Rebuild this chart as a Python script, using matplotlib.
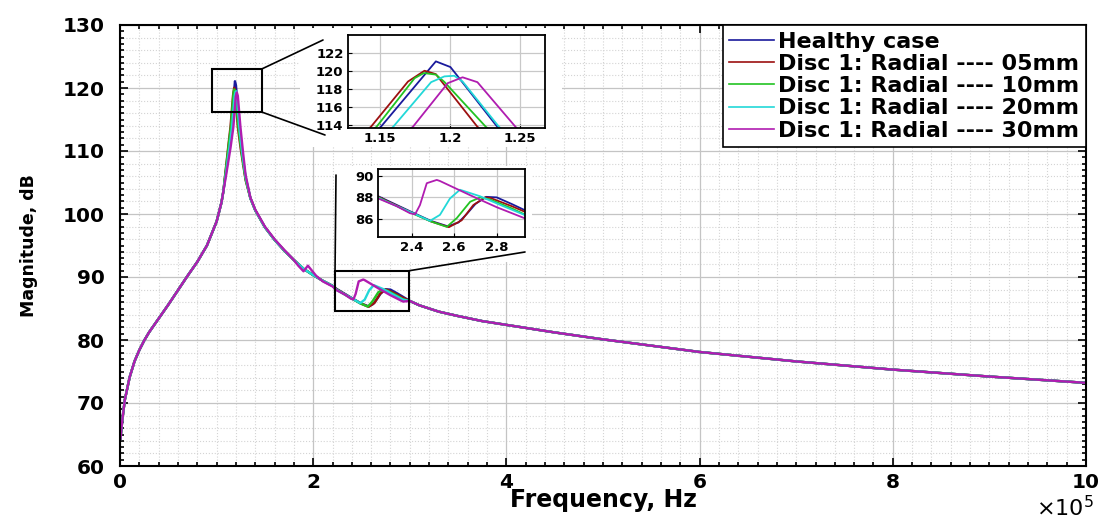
import numpy as np
import matplotlib
matplotlib.use('Agg')
import matplotlib.pyplot as plt
from matplotlib.patches import Rectangle, ConnectionPatch
from matplotlib.ticker import MultipleLocator

plt.rcParams['font.family'] = ['DejaVu Sans']
plt.rcParams['mathtext.default'] = 'regular'

# frequency in units of 1e5 Hz, magnitude in dB
# shared parts of the response (all cases overlap here)
f_low = [0.005, 0.015, 0.028, 0.05, 0.1, 0.15, 0.2, 0.25, 0.3, 0.4, 0.5, 0.6, 0.7, 0.8, 0.9, 1.0, 1.05, 1.07]
m_low = [64.3, 66.0, 67.8, 70.5, 74.1, 76.6, 78.4, 79.9, 81.2, 83.4, 85.6, 87.9, 90.2, 92.4, 95.0, 98.8, 101.8, 103.6]

f_mid = [1.35, 1.4, 1.5, 1.6, 1.7, 1.8, 1.85, 1.9, 1.95, 2.0, 2.1, 2.2]
m_mid = [102.5, 100.6, 97.9, 95.9, 94.2, 92.7, 92.0, 91.3, 90.8, 90.3, 89.4, 88.6]
# 30mm case has a small step near 1.9e5 Hz
f_mid_30 = [1.35, 1.4, 1.5, 1.6, 1.7, 1.8, 1.845, 1.9, 1.945, 2.03, 2.1, 2.2]
m_mid_30 = [102.6, 100.7, 98.0, 96.0, 94.3, 92.7, 91.8, 90.9, 91.8, 90.2, 89.3, 88.5]

f_high = [3.0, 3.1, 3.2, 3.3, 3.5, 3.75, 4.0, 4.5, 5.0, 6.0, 7.0, 8.0, 9.0, 10.0]
m_high = [86.2, 85.5, 85.0, 84.5, 83.8, 83.0, 82.4, 81.2, 80.1, 78.1, 76.6, 75.3, 74.2, 73.2]

# resonance peak, per case
pk_f_h = [1.10, 1.13, 1.1507, 1.190, 1.2004, 1.2057, 1.2339, 1.26, 1.30]
pk_m_h = [107.2, 111.0, 113.8, 121.07, 120.44, 119.4, 113.8, 110.0, 105.8]
pk_f_05 = [1.10, 1.125, 1.1436, 1.1701, 1.1819, 1.190, 1.2197, 1.25, 1.30]
pk_m_05 = [107.8, 111.3, 113.8, 118.83, 120.03, 119.65, 113.8, 110.3, 105.4]
pk_f_10 = [1.10, 1.127, 1.1476, 1.1748, 1.1814, 1.190, 1.196, 1.2257, 1.255, 1.30]
pk_m_10 = [107.6, 111.2, 113.8, 119.2, 119.77, 119.6, 118.8, 113.8, 110.2, 105.5]
pk_f_20 = [1.10, 1.135, 1.1595, 1.1866, 1.1961, 1.2032, 1.2091, 1.2351, 1.265, 1.30]
pk_m_20 = [106.8, 110.8, 113.8, 118.76, 119.4, 119.47, 118.83, 113.8, 109.8, 105.9]
pk_f_30 = [1.10, 1.145, 1.1736, 1.1985, 1.2091, 1.2197, 1.2469, 1.275, 1.30]
pk_m_30 = [106.3, 110.6, 113.8, 118.65, 119.3, 118.76, 113.8, 109.6, 106.2]

# second resonance region, per case
bp_f_h = [2.243, 2.39, 2.49, 2.57, 2.62, 2.66, 2.70, 2.75, 2.80, 2.87, 2.93]
bp_m_h = [88.1, 86.75, 85.85, 85.35, 85.7, 86.5, 87.4, 88.05, 88.0, 87.4, 86.85]
bp_f_05 = [2.243, 2.39, 2.49, 2.575, 2.635, 2.69, 2.745, 2.77, 2.87, 2.93]
bp_m_05 = [88.05, 86.7, 85.8, 85.27, 85.9, 87.3, 88.0, 87.95, 87.2, 86.7]
bp_f_10 = [2.243, 2.39, 2.49, 2.565, 2.612, 2.675, 2.722, 2.77, 2.87, 2.93]
bp_m_10 = [88.0, 86.65, 85.8, 85.3, 86.1, 87.6, 88.0, 87.8, 87.0, 86.45]
bp_f_20 = [2.243, 2.424, 2.486, 2.533, 2.58, 2.627, 2.722, 2.83, 2.93]
bp_m_20 = [87.95, 86.4, 85.85, 86.4, 87.9, 88.7, 88.1, 87.2, 86.4]
bp_f_30 = [2.243, 2.329, 2.392, 2.416, 2.439, 2.471, 2.518, 2.533, 2.675, 2.80, 2.93]
bp_m_30 = [87.9, 87.2, 86.55, 86.45, 87.3, 89.3, 89.6, 89.5, 88.2, 87.1, 86.1]

labels = ['Healthy case', 'Disc 1: Radial ---- 05mm', 'Disc 1: Radial ---- 10mm',
          'Disc 1: Radial ---- 20mm', 'Disc 1: Radial ---- 30mm']
colors = ['#1a1a9c', '#9c1010', '#22c322', '#22d8d8', '#b01cb0']

cases = [
    (pk_f_h, pk_m_h, f_mid, m_mid, bp_f_h, bp_m_h),
    (pk_f_05, pk_m_05, f_mid, m_mid, bp_f_05, bp_m_05),
    (pk_f_10, pk_m_10, f_mid, m_mid, bp_f_10, bp_m_10),
    (pk_f_20, pk_m_20, f_mid, m_mid, bp_f_20, bp_m_20),
    (pk_f_30, pk_m_30, f_mid_30, m_mid_30, bp_f_30, bp_m_30),
]

curves = []
for pf, pm, mf, mm, bf, bm in cases:
    f = f_low + pf + mf + bf + f_high
    m = m_low + pm + mm + bm + m_high
    curves.append((f, m))

W, H = 1102, 520
fig = plt.figure(figsize=(W / 100, H / 100), dpi=100)


def fx(px):
    return px / W


def fy(py):
    return 1 - py / H


ax = fig.add_axes([fx(120), fy(466), fx(1086) - fx(120), fy(25) - fy(466)])
for (f, m), c, lab in zip(curves, colors, labels):
    ax.plot(f, m, color=c, lw=1.7, label=lab)

ax.set_xlim(0, 10)
ax.set_ylim(60, 130)
ax.xaxis.set_major_locator(MultipleLocator(2))
ax.xaxis.set_minor_locator(MultipleLocator(0.2))
ax.yaxis.set_major_locator(MultipleLocator(10))
ax.yaxis.set_minor_locator(MultipleLocator(1))
ax.tick_params(which='both', direction='in', top=True, right=True, width=1.2)
ax.tick_params(which='major', length=6, labelsize=14.5)
ax.tick_params(axis='y', which='major', pad=11)
ax.tick_params(axis='x', which='major', pad=5)
ax.tick_params(which='minor', length=3)
for lbl in ax.get_xticklabels() + ax.get_yticklabels():
    lbl.set_fontweight('bold')
ax.grid(which='major', color='#c4c4c4', lw=0.9)
ax.xaxis.grid(True, which='minor', color='#d4d4d4', ls=':', lw=0.8)
for yv in np.arange(62, 130, 2):
    if yv % 10:
        ax.axhline(yv, color='#d4d4d4', ls=':', lw=0.8, zorder=0.5)
ax.set_axisbelow(True)
for s in ax.spines.values():
    s.set_linewidth(1.5)

ax.set_xlabel('Frequency, Hz', fontsize=17, fontweight='bold', labelpad=-3)
ax.set_ylabel('Magnitude, dB', fontsize=12.5, fontweight='bold', labelpad=18)
fig.text(fx(1094), 0.0, r'$\times10^{5}$', fontsize=16, ha='right', va='bottom')

leg = ax.legend(loc='upper right', bbox_to_anchor=(1.0, 1.0), borderaxespad=0,
                fancybox=False, framealpha=1, edgecolor='black',
                prop={'size': 16, 'weight': 'bold'}, handlelength=2.0,
                handletextpad=0.2, labelspacing=0.1, borderpad=0.3)
leg.get_frame().set_linewidth(1.2)
for ln in leg.get_lines():
    ln.set_linewidth(1.2)

# zoom boxes on the main axes
box1 = (0.955, 116.2, 0.51, 6.8)
box2 = (2.226, 84.6, 0.769, 6.4)
for bx in (box1, box2):
    ax.add_patch(Rectangle(bx[:2], bx[2], bx[3], fill=False, ec='black', lw=1.5, zorder=5))

# white areas behind the insets
for x0, y0, x1, y1 in [(300, 28, 562, 147), (337, 166, 532, 262)]:
    fig.add_artist(Rectangle((fx(x0), fy(y1)), fx(x1) - fx(x0), fy(y0) - fy(y1),
                             transform=fig.transFigure, fc='white', ec='none', zorder=1))

links = [((box1[0] + box1[2], box1[1] + box1[3]), (323, 40)),
         ((box1[0] + box1[2], box1[1]), (325, 135)),
         ((box2[0], box2[1] + box2[3]), (336, 175)),
         ((box2[0] + box2[2], box2[1] + box2[3]), (525, 252))]
for xyA, (px, py) in links:
    con = ConnectionPatch(xyA=xyA, coordsA=ax.transData, xyB=(fx(px), fy(py)),
                          coordsB=fig.transFigure, color='black', lw=1.2, zorder=3)
    fig.add_artist(con)


def make_inset(rect, xlim, ylim, xticks, yticks):
    a = fig.add_axes(rect, zorder=2)
    for (f, m), c in zip(curves, colors):
        a.plot(f, m, color=c, lw=1.3)
    a.set_xlim(*xlim)
    a.set_ylim(*ylim)
    a.set_xticks(xticks)
    a.set_xticklabels([f'{v:g}' for v in xticks])
    a.set_yticks(yticks)
    a.tick_params(direction='in', labelsize=9.5, length=3, pad=3)
    for lbl in a.get_xticklabels() + a.get_yticklabels():
        lbl.set_fontweight('bold')
    a.grid(color='#c8c8c8', lw=0.9)
    a.set_axisbelow(True)
    for s in a.spines.values():
        s.set_linewidth(1.3)
    return a


make_inset([fx(347.7), fy(127.7), fx(545) - fx(347.7), fy(35) - fy(127.7)],
           (1.127, 1.268), (113.7, 124.0), [1.15, 1.2, 1.25], [114, 116, 118, 120, 122])
make_inset([fx(378.3), fy(236.7), fx(525) - fx(378.3), fy(169) - fy(236.7)],
           (2.243, 2.933), (84.4, 90.6), [2.4, 2.6, 2.8], [86, 88, 90])

fig.savefig('out.png', dpi=100)
